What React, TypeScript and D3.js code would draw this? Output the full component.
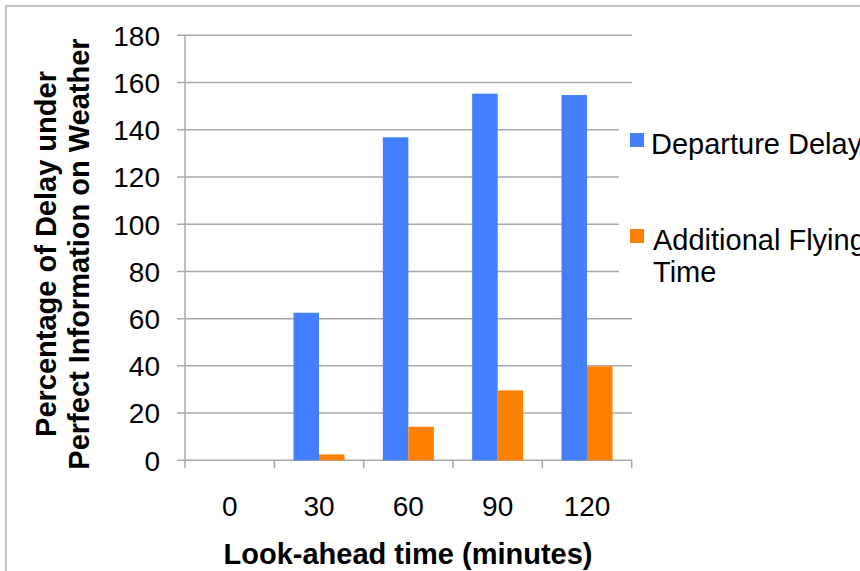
import React from "react";
import * as d3 from "d3";

const categories = ["0", "30", "60", "90", "120"];
const seriesNames = ["Departure Delay", "Additional Flying Time"];
const departureDelay = [0, 62.5, 136.8, 155.3, 154.7];
const additionalFlying = [0, 2.5, 14.2, 29.6, 39.8];
const yTicks = [0, 20, 40, 60, 80, 100, 120, 140, 160, 180];
const colors = ["#4380ff", "#ff7f00"];

const W = 860;
const H = 571;
const FONT = "'Liberation Sans', Arial, Helvetica, sans-serif";

export default function App() {
  const x0 = d3.scaleBand<string>().domain(categories).range([185, 631.7]).paddingInner(0).paddingOuter(0);
  const x1 = d3
    .scaleBand<string>()
    .domain(seriesNames)
    .range([0, x0.bandwidth()])
    .paddingInner(0)
    .paddingOuter(0.75);
  const y = d3.scaleLinear().domain([0, 180]).range([460.3, 35.3]);
  const data = [departureDelay, additionalFlying];
  const legendCovered = (v: number) => v >= 80 && v <= 140;

  return (
    <svg
      width={W}
      height={H}
      style={{ position: "absolute", left: 0, top: 0, background: "#fff" }}
      fontFamily={FONT}
    >
      <rect x={6} y={6} width={W + 20} height={H + 20} fill="#fff" stroke="#c4c4c4" strokeWidth={2} />
      {/* gridlines */}
      {yTicks.map((t) => (
        <line
          key={"g" + t}
          x1={177}
          x2={legendCovered(t) ? 619 : 632}
          y1={y(t)}
          y2={y(t)}
          stroke="#a8a8a8"
          strokeWidth={1.5}
        />
      ))}
      {/* y axis line */}
      <line x1={185} x2={185} y1={y(180)} y2={y(0)} stroke="#a8a8a8" strokeWidth={1.5} />
      {/* x ticks */}
      {[...categories.map((c) => x0(c) as number), 631.7].map((px, i) => (
        <line key={"xt" + i} x1={px} x2={px} y1={y(0)} y2={y(0) + 8} stroke="#a8a8a8" strokeWidth={1.5} />
      ))}
      {/* bars */}
      {categories.map((c, ci) => (
        <g key={"grp" + c} transform={`translate(${x0(c)},0)`}>
          {seriesNames.map((s, si) => {
            const v = data[si][ci];
            return (
              <rect
                key={s}
                x={x1(s) as number}
                y={y(v)}
                width={x1.bandwidth()}
                height={y(0) - y(v)}
                fill={colors[si]}
              />
            );
          })}
        </g>
      ))}
      {/* y tick labels */}
      {yTicks.map((t) => (
        <text key={"yl" + t} x={160} y={y(t)} dy="0.37em" textAnchor="end" fontSize={28} fill="#000">
          {t}
        </text>
      ))}
      {/* x tick labels */}
      {categories.map((c) => (
        <text
          key={"xl" + c}
          x={(x0(c) as number) + x0.bandwidth() / 2}
          y={516}
          textAnchor="middle"
          fontSize={28}
          fill="#000"
        >
          {c}
        </text>
      ))}
      {/* x axis title */}
      <text x={408} y={564} textAnchor="middle" fontSize={29} fontWeight="bold" fill="#000">
        Look-ahead time (minutes)
      </text>
      {/* y axis title */}
      <g transform="translate(0,254) rotate(-90)">
        <text x={0} y={56} textAnchor="middle" fontSize={29} fontWeight="bold" fill="#000">
          Percentage of Delay under
        </text>
        <text x={0} y={89} textAnchor="middle" fontSize={29} fontWeight="bold" fill="#000">
          Perfect Information on Weather
        </text>
      </g>
      {/* legend */}
      <g>
        <rect x={630} y={133} width={14} height={14} fill={colors[0]} />
        <text x={651} y={154} fontSize={29} fill="#000">
          Departure Delay
        </text>
        <rect x={630} y={229} width={14} height={14} fill={colors[1]} />
        <text x={653} y={250} fontSize={29} fill="#000">
          <tspan x={653}>Additional Flying</tspan>
          <tspan x={653} dy={32}>
            Time
          </tspan>
        </text>
      </g>
    </svg>
  );
}
